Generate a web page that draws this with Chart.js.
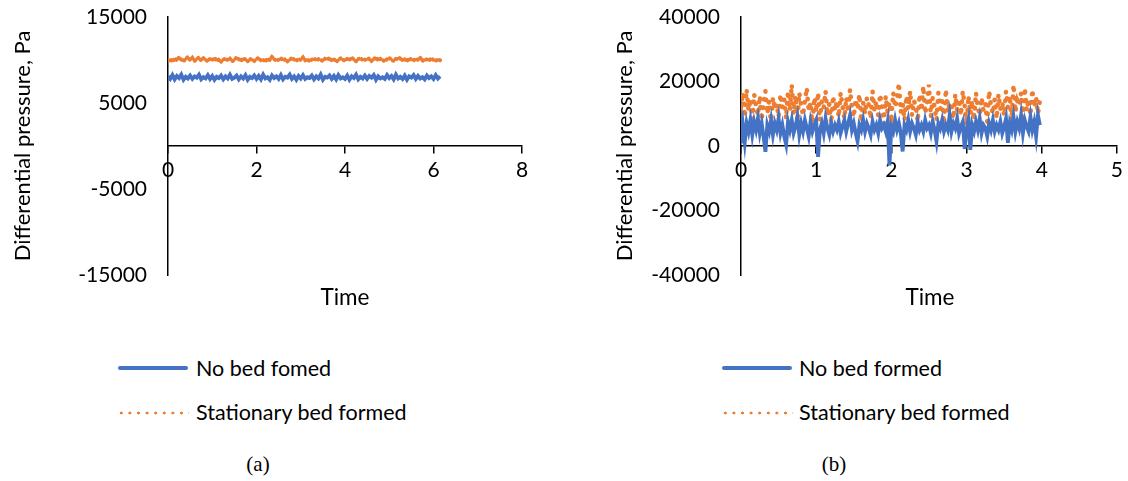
<!DOCTYPE html>
<html lang="en">
<head>
    <meta charset="UTF-8">
    <title>Differential pressure</title>
    <script src="https://cdn.jsdelivr.net/npm/chart.js"></script>
    <style>
        body { margin: 0; background: #fff; width: 1128px; height: 481px; position: relative; overflow: hidden; font-family: Lato, sans-serif; }
        .box { position: absolute; }
        .txt { position: absolute; font-size: 21.5px; color: #000; white-space: nowrap; line-height: 1; }
        .cap { position: absolute; font-family: "Liberation Serif", serif; font-size: 21px; transform: translate(-50%, -50%); }
        .solid { position: absolute; width: 70px; height: 3.5px; background: #4472C4; border-radius: 2px; }
        .dots { position: absolute; width: 72px; height: 4px;
            background: radial-gradient(circle, #ED7D31 1.3px, transparent 1.7px) 0 0 / 8.6px 4px repeat-x; }
    </style>
</head>
<body>
    <!-- chart (a) -->
    <div class="box" style="left:0;top:0;width:560px;height:300px;">
        <canvas id="chartA"></canvas>
    </div>
    <!-- chart (b) -->
    <div class="box" style="left:602px;top:0;width:526px;height:300px;">
        <canvas id="chartB"></canvas>
    </div>

    <div class="txt" style="left:345px;top:297px;font-size:22.5px;transform:translate(-50%,-50%)">Time</div>
    <div class="txt" style="left:930px;top:297px;font-size:22.5px;transform:translate(-50%,-50%)">Time</div>

    <!-- legends -->
    <div class="solid" style="left:118px;top:366px"></div>
    <div class="txt" style="left:196px;top:358px">No bed fomed</div>
    <div class="dots" style="left:117px;top:411px"></div>
    <div class="txt" style="left:196px;top:402px">Stationary bed formed</div>

    <div class="solid" style="left:722px;top:366px"></div>
    <div class="txt" style="left:799px;top:358px">No bed formed</div>
    <div class="dots" style="left:721px;top:411px"></div>
    <div class="txt" style="left:799px;top:402px">Stationary bed formed</div>

    <div class="cap" style="left:258px;top:464px">(a)</div>
    <div class="cap" style="left:834px;top:464px">(b)</div>

    <script>
        // (a) readings, sampled every 0.05 time units
        const stepA = 0.05;
        const noBedA = [
            8100, 7800, 8250, 7750, 8150, 7900, 8300, 7700, 8050, 7850, 8200, 7800, 8100, 7950, 8300, 7750, 8000, 7850, 8250, 7800,
            8150, 7700, 8050, 7900, 8200, 7750, 8100, 7850, 8300, 7800, 7950, 8200, 7750, 8100, 7850, 8250, 7700, 8050, 7900, 8200,
            7800, 8150, 7750, 8300, 7850, 8000, 7700, 8200, 7900, 8100, 7800, 8250, 7750, 8050, 7950, 8300, 7800, 8100, 7700, 8150,
            7850, 8250, 7800, 8000, 7900, 8200, 7750, 8100, 7850, 8300, 7700, 8050, 7950, 8200, 7800, 8150, 7750, 8250, 7850, 8000,
            7800, 8200, 7700, 8100, 7900, 8300, 7750, 8050, 7850, 8200, 7800, 8150, 7950, 8250, 7700, 8100, 7850, 8000, 7800, 8250,
            7900, 8150, 7750, 8300, 7850, 8050, 7800, 8200, 7700, 8100, 7950, 8250, 7800, 8150, 7850, 8000, 7750, 8200, 7900, 8100,
            7800, 8250, 7850, 8100
        ];
        const bedA = [
            9900, 10100, 9800, 10200, 9950, 10300, 10050, 9850, 10150, 10350, 10000, 10250, 9900, 10100, 10300, 9950, 10200, 10050, 9850, 10150,
            10000, 10250, 9900, 10100, 9800, 10050, 10200, 9950, 10150, 9850, 10000, 10300, 10100, 9900, 10200, 10050, 9850, 10150, 10000, 9900,
            10100, 10250, 9950, 10050, 9800, 10150, 10000, 10350, 10100, 9900, 10050, 10200, 9950, 10100, 9850, 10000, 10250, 10050, 9900, 10150,
            10000, 10300, 9950, 10100, 9850, 10050, 10200, 9950, 10100, 10000, 9900, 10150, 10050, 10250, 9950, 10100, 9800, 10000, 10200, 10050,
            9900, 10150, 10000, 10300, 10050, 9850, 10100, 10250, 9950, 10050, 10000, 10200, 9900, 10100, 10300, 9950, 10150, 10000, 9850, 10100,
            10250, 10000, 9900, 10150, 10050, 10300, 9950, 10100, 9850, 10200, 10050, 9950, 10150, 10000, 10250, 9900, 10100, 10050, 9950, 10200,
            10000, 9900, 10100, 9950
        ];

        // (b) readings, sampled every 0.025 time units
        const stepB = 0.025;
        const noBedB = [
            800, 6500, 1200, 7000, 4500, 8000, 3500, 7500, 5000, 8500, 4000, 7000, 3000, -1800, 6500, 4500, 8000, 3500, 7000, 5000,
            8500, 4000, 6500, 3000, 500, 7500, 5000, 8000, 4000, 6000, 9000, 3500, 7000, 4500, 8000, 5500, 3000, 7500, 4500, 6500,
            8000, -3400, 5000, 7000, 4000, 8500, 5500, 3500, 7000, 4500, 6500, 5000, 7500, 4000, 6000, 8000, 4500, 7000, 9500, 5000,
            7000, 4000, 1500, 6500, 5000, 8000, 4500, 7000, 5500, 3500, 7500, 5000, 6500, 4000, 8000, 5500, 6500, 4500, 7500, -6000,
            6000, 4500, 8000, 5000, 7000, 4000, -1700, 6500, 5000, 8000, 4500, 7000, 5500, 3500, 7500, 5000, 6500, 4500, 8000, 5500,
            6500, 4000, 7500, 5000, 1500, 7000, 5500, 8000, 4500, 6500, 5000, 9500, 4500, 7000, 5500, 8500, 4000, 6000, 7500, -900,
            5000, 8000, -1200, 6500, 4500, 7500, 5000, 8500, 4000, 6500, 5500, 3000, 7000, 5000, 8000, 4500, 6500, 5000, 7500, 4000,
            6000, 8500, 1000, 7000, 5000, 9000, 4500, 7500, 5500, 9500, 4000, 8000, 6000, 4500, 9000, 5000, 7500, 3000, 9500, 6500
        ];
        const bedB = [
            12000, 16500, 9000, 17500, 11000, 14500, 7000, 16000, 12500, 9500, 15500, 8000, 13500, 17000, 10000, 14000, 6500, 15000, 11500, 13000,
            9000, 16000, 12000, 14500, 8500, 17000, 11000, 19000, 10000, 15500, 7500, 16500, 12500, 9500, 14000, 18000, 11000, 13500, 6000, 15000,
            10500, 16500, 8000, 14000, 12000, 17000, 9500, 13000, 7000, 15500, 11000, 14000, 9000, 16500, 12500, 8500, 15000, 10500, 17500, 12000,
            9000, 14500, 11500, 16000, 7500, 13500, 10000, 15000, 12500, 8500, 17000, 11000, 14000, 9500, 16000, 12000, 7000, 15500, 10500, 13500,
            9000, 16500, 12000, 14500, 19500, 10500, 13000, 8000, 15500, 11500, 17000, 9500, 14000, 12500, 7500, 16000, 11000, 18500, 10000, 13500,
            19000, 9000, 15000, 12000, 8000, 16500, 11500, 14000, 7000, 17500, 10500, 13500, 12500, 8500, 16000, 11000, 14500, 9500, 17000, 12500,
            6500, 15500, 10000, 14000, 8000, 16500, 12000, 9500, 15000, 11000, 13000, 7500, 17000, 12500, 10000, 14500, 8500, 16000, 11500, 13500,
            9500, 17000, 12000, 15500, 8000, 19000, 10500, 14000, 12500, 16500, 7500, 18000, 11000, 14500, 9500, 17500, 12000, 15000, 10000, 14000
        ];

        const timeA = noBedA.map((v, i) => +(i * stepA).toFixed(3));
        const timeB = noBedB.map((v, i) => +(i * stepB).toFixed(3));

        const blue = '#4472C4';
        const orange = '#ED7D31';
        const tickFont = { family: 'Lato', size: 21 };
        const titleFont = { family: 'Lato', size: 22 };

        function makeChart(id, labels, noBed, bed, xMax, xStep, yLim, yStep, yWidth, rightPad, dotW, dotGap, titleOff) {
            return new Chart(document.getElementById(id), {
                type: 'line',
                data: {
                    labels: labels,
                    datasets: [
                        { data: noBed, borderColor: blue, borderWidth: 3.8, pointRadius: 0, tension: 0 },
                        { data: bed, borderColor: orange, borderWidth: dotW, borderDash: [0.5, dotGap], borderCapStyle: 'round',
                          pointRadius: 0, tension: 0 }
                    ]
                },
                options: {
                    responsive: true,
                    maintainAspectRatio: false,
                    animation: false,
                    layout: { padding: { top: 17, bottom: 25, right: rightPad, left: 0 } },
                    plugins: { legend: { display: false }, tooltip: { enabled: false } },
                    scales: {
                        x: {
                            type: 'linear',
                            min: 0, max: xMax,
                            position: { y: 0 },
                            ticks: { stepSize: xStep, font: tickFont, color: '#000', padding: 5, maxRotation: 0 },
                            grid: { display: true, drawOnChartArea: false, drawTicks: true, tickLength: 7, color: '#000', lineWidth: 1.5 },
                            border: { display: true, color: '#000', width: 1.5 }
                        },
                        y: {
                            min: -yLim, max: yLim,
                            ticks: { stepSize: yStep, font: tickFont, color: '#000', padding: 21, callback: v => String(v) },
                            grid: { display: false, drawTicks: false },
                            border: { display: true, color: '#000', width: 1.5 },
                            title: { display: true, text: 'Differential pressure, Pa', font: titleFont, color: '#000',
                                     padding: { top: 10 }, align: titleOff },
                            afterFit: s => { s.width = yWidth; s.paddingTop = 0; s.paddingBottom = 0; }
                        }
                    }
                }
            });
        }

        makeChart('chartA', timeA, noBedA, bedA, 8, 2, 15000, 10000, 168, 38, 4, 3.5, 'center');
        makeChart('chartB', timeB, noBedB, bedB, 5, 1, 40000, 20000, 139, 9, 4.5, 8, 'center');
    </script>
</body>
</html>
